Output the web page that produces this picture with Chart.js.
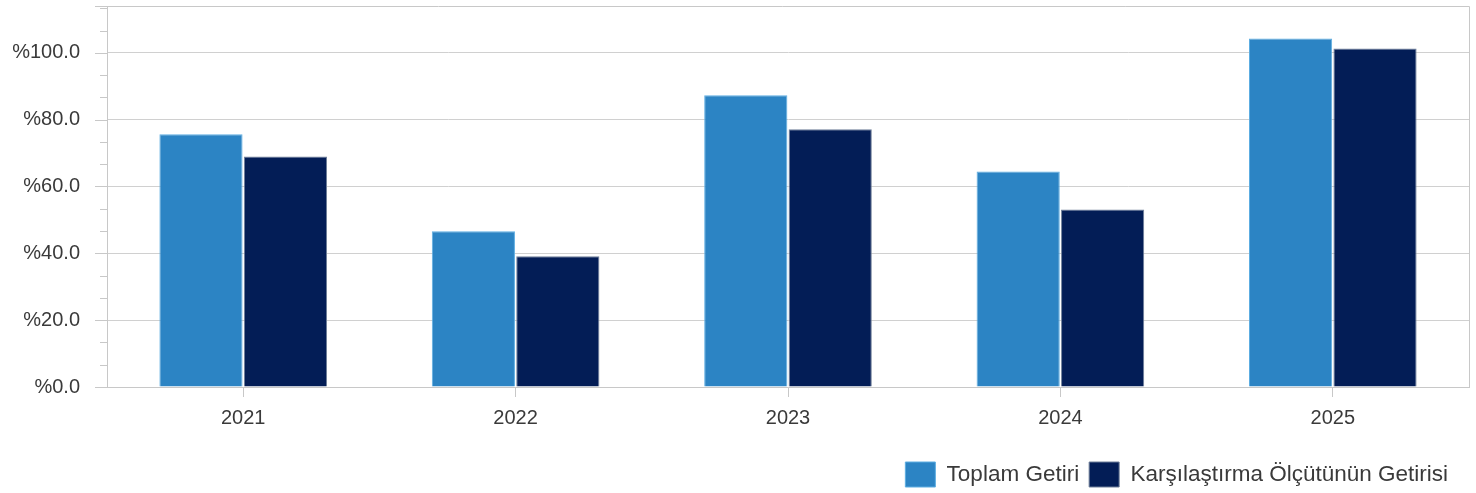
<!DOCTYPE html>
<html>
	<head>
		<meta charset="UTF-8" />
		<title>Chart</title>
		<style type="text/css">
body { margin: 0; background: #fff; }
.chartBox { width: 1476px; height: 493px; }
		</style>
	</head>
	<body>
		<script src="https://cdn.jsdelivr.net/npm/chart.js@4/dist/chart.umd.min.js"></script>
		<div class="chartBox">
			<canvas id="myChart"></canvas>
		</div>
		<script charset="utf-8">
			const years = ['2021', '2022', '2023', '2024', '2025'];
			const toplamGetiri = [75.6, 46.6, 87.3, 64.5, 104.3];
			const olcutGetiri = [69.0, 39.1, 77.1, 53.1, 101.3];
			const yTicks = [0, 20, 40, 60, 80, 100];
			const yMax = 114;

			// y tick marks (major + minor) and the top/right frame, drawn through the y scale
			const frame = {
				id: 'frame',
				afterLayout(chart) {
					// pull the legend a bit in from the right edge
					chart.legend.left -= 11;
					chart.legend.right -= 11;
				},
				afterDraw(chart) {
					const y = chart.scales.y;
					const a = chart.chartArea;
					const ctx = chart.ctx;
					ctx.save();
					ctx.strokeStyle = '#c8c8c8';
					ctx.lineWidth = 1;
					for (let k = 0; k * 20 / 3 <= y.max; k++) {
						const len = k % 3 === 0 ? 12 : 7;
						const py = Math.round(y.getPixelForValue(k * 20 / 3)) + 0.5;
						ctx.beginPath();
						ctx.moveTo(y.right - len, py);
						ctx.lineTo(y.right, py);
						ctx.stroke();
					}
					const top = Math.round(a.top) + 0.5;
					const right = Math.round(a.right) + 0.5;
					ctx.beginPath();
					ctx.moveTo(y.right - 12, top);
					ctx.lineTo(right, top);
					ctx.lineTo(right, a.bottom);
					ctx.stroke();
					ctx.restore();
				}
			};

			const data = {
				labels: years,
				datasets: [{
					label: 'Toplam Getiri',
					backgroundColor: '#2c84c4',
					borderColor: '#5eaee2',
					borderWidth: 1,
					data: toplamGetiri,
				}, {
					label: 'Karşılaştırma Ölçütünün Getirisi',
					backgroundColor: '#031d56',
					borderColor: '#6f7f99',
					borderWidth: 1,
					data: olcutGetiri,
				}]
			};

			const config = {
				type: 'bar',
				data,
				plugins: [frame],
				options: {
					responsive: true,
					maintainAspectRatio: false,
					animation: false,
					categoryPercentage: 0.62,
					barPercentage: 0.985,
					layout: { padding: { top: 6, right: 7, left: 0, bottom: -4 } },
					plugins: {
						tooltip: { enabled: false },
						legend: {
							position: 'bottom',
							align: 'end',
							labels: {
								boxWidth: 30,
								boxHeight: 25,
								padding: 10,
								color: '#3a3a3a',
								font: { family: 'Liberation Sans', size: 22.5 }
							}
						}
					},
					scales: {
						x: {
							afterFit: (axis) => { axis.height = 65; },
							grid: {
								display: true,
								offset: false,
								drawOnChartArea: false,
								tickLength: 10,
								color: '#c8c8c8'
							},
							border: { color: '#c8c8c8' },
							ticks: {
								padding: 9,
								color: '#3a3a3a',
								font: { family: 'Liberation Sans', size: 20 }
							}
						},
						y: {
							min: 0,
							max: yMax,
							afterFit: (axis) => { axis.width = 107; },
							afterBuildTicks: (axis) => {
								axis.ticks = yTicks.map(v => ({ value: v }));
							},
							grid: {
								color: '#d0d0d0',
								tickLength: 27,
								tickColor: 'rgba(0,0,0,0)'
							},
							border: { color: '#c8c8c8' },
							ticks: {
								padding: 0,
								color: '#3a3a3a',
								font: { family: 'Liberation Sans', size: 20, lineHeight: 0.5 },
								callback: (v) => '%' + v.toFixed(1)
							}
						}
					}
				}
			};

			var ctx = document.getElementById('myChart').getContext('2d');
			var myChart = new Chart(ctx, config);
		</script>
	</body>
</html>
